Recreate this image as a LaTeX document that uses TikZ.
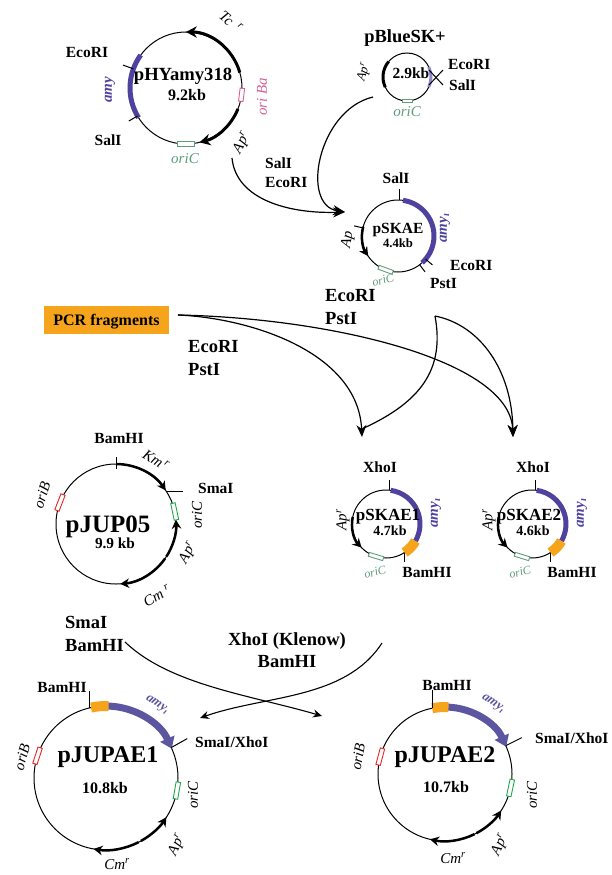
\documentclass[tikz,border=0pt]{standalone}
\usepackage{fontspec}
\setmainfont{Liberation Serif}
\usetikzlibrary{arrows.meta,positioning}

\definecolor{amyblue}{RGB}{78,66,158}
\definecolor{amylight}{RGB}{140,136,204}
\definecolor{amygrey}{RGB}{92,86,160}
\definecolor{pcrorange}{RGB}{246,164,28}
\definecolor{oripink}{RGB}{214,96,152}
\definecolor{orisage}{RGB}{96,156,124}
\definecolor{origreen}{RGB}{30,168,74}
\definecolor{orired}{RGB}{230,36,40}

\tikzset{
  plasmid/.style={circle, draw, line width=1pt, inner sep=0pt, outer sep=0pt, minimum size=#1},
  pname/.style={font=\fontsize{#1}{#1}\selectfont\bfseries, inner sep=0pt},
  enz/.style={font=\fontsize{15.5}{19}\selectfont\bfseries, inner sep=0pt},
  cutlbl/.style={font=\fontsize{18.5}{22.5}\selectfont\bfseries, align=left, inner sep=0pt},
  gene/.style={font=\fontsize{15}{17}\selectfont\itshape, inner sep=0pt},
  amylbl/.style={font=\fontsize{15}{17}\selectfont\bfseries\itshape, text=amyblue, inner sep=0pt},
  cutmark/.style={line width=1pt},
  resist/.style={line width=#1, -{Stealth[length=0pt 3.6, width=0pt 3.8]}},
  amyarc/.style={line width=5pt, amyblue},
  amyarrow/.style={line width=7pt, amygrey, -{Triangle[length=11pt, width=15pt]}},
  orangeseg/.style={line width=10pt, pcrorange},
  oribox/.style={draw=#1, line width=0.9pt, fill=white, inner sep=0pt, minimum width=4.5pt},
  reaction/.style={line width=1.2pt, -{Stealth[length=12pt, width=10pt]}},
  reaction2/.style={line width=1.1pt, -{Stealth[length=9pt, width=8pt]}},
}

\begin{document}
\begin{tikzpicture}[x=1pt, y=1pt]
\useasboundingbox (0,0) rectangle (612,-875);

% pHYamy318
\node[plasmid=112pt] (hy) at (186,-88) {};
\draw[amyarc] (hy.144) arc[start angle=144, end angle=212, radius=56pt];
\draw[resist=3pt] (hy.16) arc[start angle=16, end angle=90, radius=56pt];
\draw[resist=3pt] (hy.-22) arc[start angle=-22, end angle=-76, radius=56pt];
\node[oribox=oripink, minimum height=13pt, rotate=-7] (hyBa) at (hy.-7) {};
\node[oribox=orisage, minimum height=17pt, rotate=-90] (hyC) at (hy.-90) {};
\draw[cutmark] (hy.160) -- ++(160:11);
\draw[cutmark] (hy.210) -- ++(210:10);
\node[pname=18.6, anchor=base] (hyname) at (183,-81) {pHYamy318};
\node[pname=16, anchor=base] (hykb) at (187,-100) {9.2kb};
\node[enz, anchor=base] (hyE) at (87,-58) {EcoRI};
\node[enz, anchor=base] (hyS) at (108,-145) {SalI};
\node[amylbl, rotate=90] (hyamy) at (110,-90) {amy};
\node[gene, rotate=-40] (hyTc) at (231,-22) {Tc\hspace{7pt}\textsuperscript{r}};
\node[gene, text=oripink, rotate=90] (hyBalbl) at (262,-97) {ori Ba};
\node[gene, rotate=62] (hyAp) at (242,-143) {Ap\textsuperscript{r}};
\node[gene, text=orisage, anchor=base] (hyClbl) at (185,-163) {oriC};

% pBlueSK+
\node[plasmid=48pt] (bs) at (407,-77) {};
\draw[line width=3pt, amylight] (bs.25) arc[start angle=25, end angle=-25, radius=24pt];
\draw[line width=3pt] (bs.140) arc[start angle=140, end angle=205, radius=24pt];
\node[oribox=orisage, minimum height=10pt, minimum width=3.5pt, rotate=-90] (bsC) at (bs.-90) {};
\draw[cutmark] ([shift={(22,7)}]bs.center) -- ++(14,-15);
\draw[cutmark] ([shift={(22,-8)}]bs.center) -- ++(14,15);
\node[pname=18.5, anchor=base] (bsname) at (405,-43) {pBlueSK+};
\node[pname=15.5, anchor=base] (bskb) at (411,-78) {2.9kb};
\node[enz, anchor=base west] (bsE) at (448,-70) {EcoRI};
\node[enz, anchor=base west] (bsS) at (449,-90) {SalI};
\node[gene, font=\fontsize{13}{15}\selectfont\itshape, rotate=75] (bsAp) at (364,-72) {Ap\textsuperscript{r}};
\node[gene, text=orisage, anchor=base] (bsClbl) at (407,-116) {oriC};

% pSKAE
\node[plasmid=72pt] (sk) at (398,-236) {};
\draw[amyarc] (sk.82) arc[start angle=82, end angle=-48, radius=36pt];
\draw[resist=2.5pt] (sk.165) arc[start angle=165, end angle=214, radius=36pt];
\node[oribox=orisage, minimum height=15pt, minimum width=4pt, rotate=-110] (skC) at (sk.-110) {};
\draw[cutmark] (sk.167) -- ++(167:9);
\draw[cutmark] (sk.88) -- ++(0,11);
\draw[cutmark] (sk.-40) -- ++(-40:9);
\draw[cutmark] (sk.-53) -- ++(-53:9);
\node[pname=15.5, anchor=base] (skname) at (398,-233) {pSKAE};
\node[pname=12.7, anchor=base] (skkb) at (398,-247) {4.4kb};
\node[enz, anchor=base] (skS) at (396,-183) {SalI};
\node[enz, anchor=base west] (skE) at (450,-270) {EcoRI};
\node[enz, anchor=base west] (skP) at (430,-288) {PstI};
\node[amylbl, rotate=90] (skamy) at (445,-228) {amy\textsubscript{\i}};
\node[gene, rotate=80] (skAp) at (348,-240) {Ap};
\node[gene, font=\fontsize{12}{14}\selectfont\itshape, text=orisage, rotate=15] (skClbl) at (383,-280) {oriC};

% cloning into pBlueSK+
\node[enz, align=left, anchor=west] (cut1) at (265,-173) {SalI\\EcoRI};
\coordinate (hyout) at (232,-158);
\coordinate (bsout) at (373,-97);
\coordinate (skin) at (345,-212);
\draw[reaction] (hyout) .. controls (236,-200) and (290,-214) .. (skin);
\draw[reaction] (bsout) .. controls (318,-110) and (300,-205) .. (skin);

% PCR fragments
\node[fill=pcrorange, minimum width=125pt, minimum height=28pt, inner sep=0pt, text depth=0pt,
      font=\fontsize{16}{18}\selectfont\bfseries] (pcr) at (106.5,-320) {PCR fragments};
\node[cutlbl, anchor=west] (cut2) at (325,-307) {EcoRI\\PstI};
\node[cutlbl, anchor=west] (cut3) at (188,-358) {EcoRI\\PstI};
\coordinate (pcrout) at (178,-315);
\coordinate (skout) at (435,-316);
\coordinate (kain) at (362,-437);
\coordinate (kbin) at (513,-437);
\draw[reaction] (pcrout) .. controls (250,-318) and (358,-352) .. (kain);
\draw[reaction] (pcrout) .. controls (330,-318) and (510,-360) .. (kbin);
\draw[line width=1.2pt] (skout) .. controls (445,-370) and (420,-402) .. (364,-428);
\draw[reaction] (skout) .. controls (480,-325) and (512,-370) .. (kbin);

% pJUP05
\node[plasmid=120pt] (ju) at (116,-524) {};
\draw[resist=2.5pt] (ju.90) arc[start angle=90, end angle=34, radius=60pt];
\draw[resist=2.5pt] (ju.-33) arc[start angle=-33, end angle=4, radius=60pt];
\draw[resist=2.5pt] (ju.-35) arc[start angle=-35, end angle=-86, radius=60pt];
\node[oribox=origreen, minimum height=17pt, rotate=12] (juC) at (ju.12) {};
\node[oribox=orired, minimum height=17pt, rotate=159] (juB) at (ju.159) {};
\draw[cutmark] ([shift={(90:55)}]ju.center) -- ++(0,12);
\draw[cutmark] (ju.33) -- ++(17,0);
\node[pname=25, anchor=base] (juname) at (108,-532) {pJUP05};
\node[pname=15.3, anchor=base] (jukb) at (115,-548) {9.9 kb};
\node[enz, anchor=base] (juBam) at (119,-443) {BamHI};
\node[enz, anchor=base west] (juSma) at (198,-493) {SmaI};
\node[gene, rotate=-32] (juKm) at (156,-460) {Km\hspace{2pt}\textsuperscript{r}};
\node[gene, rotate=90] (juClbl) at (197,-515) {oriC};
\node[gene, rotate=62] (juAp) at (188,-553) {Ap\textsuperscript{r}};
\node[gene, rotate=30] (juCm) at (157,-596) {Cm\hspace{4pt}\textsuperscript{r}};
\node[gene, rotate=72] (juBlbl) at (42,-495) {oriB};

% pSKAE1
\node[plasmid=68pt] (ka) at (386,-524) {};
\draw[amyarc] (ka.82) arc[start angle=82, end angle=-30, radius=34pt];
\draw[orangeseg] (ka.-30) arc[start angle=-30, end angle=-57, radius=34pt];
\draw[resist=2.5pt] (ka.168) arc[start angle=168, end angle=224, radius=34pt];
\node[oribox=orisage, minimum height=15pt, minimum width=4pt, rotate=-107] (kaC) at (ka.-107) {};
\draw[cutmark] (ka.84) -- ++(0,10);
\draw[cutmark] (ka.-57) -- ++(0,-9);
\node[pname=17, anchor=base] (kaname) at (388,-520) {pSKAE1};
\node[pname=14, anchor=base] (kakb) at (390,-535) {4.7kb};
\node[enz, anchor=base] (kaX) at (380,-472) {XhoI};
\node[enz, anchor=base] (kaB) at (427,-577) {BamHI};
\node[amylbl, rotate=90] (kaamy) at (436,-513) {amy\textsubscript{\i}};
\node[gene, rotate=90] (kaAp) at (343,-520) {Ap\textsuperscript{r}};
\node[gene, font=\fontsize{12}{14}\selectfont\itshape, text=orisage, rotate=15] (kaClbl) at (375,-572) {oriC};

% pSKAE2
\node[plasmid=68pt] (kb) at (532,-524) {};
\draw[amyarc] (kb.82) arc[start angle=82, end angle=-30, radius=34pt];
\draw[orangeseg] (kb.-30) arc[start angle=-30, end angle=-57, radius=34pt];
\draw[resist=2.5pt] (kb.168) arc[start angle=168, end angle=224, radius=34pt];
\node[oribox=orisage, minimum height=15pt, minimum width=4pt, rotate=-107] (kbC) at (kb.-107) {};
\draw[cutmark] (kb.84) -- ++(0,10);
\draw[cutmark] (kb.-57) -- ++(0,-9);
\node[pname=17, anchor=base] (kbname) at (529,-520) {pSKAE2};
\node[pname=14, anchor=base] (kbkb) at (533,-535) {4.6kb};
\node[enz, anchor=base] (kbX) at (533,-472) {XhoI};
\node[enz, anchor=base] (kbB) at (572,-577) {BamHI};
\node[amylbl, rotate=90] (kbamy) at (582,-513) {amy\textsubscript{\i}};
\node[gene, rotate=90] (kbAp) at (489,-520) {Ap\textsuperscript{r}};
\node[gene, font=\fontsize{12}{14}\selectfont\itshape, text=orisage, rotate=15] (kbClbl) at (520,-572) {oriC};

% subcloning into pJUP05
\node[cutlbl, anchor=west] (cut4) at (65,-634) {SmaI\\BamHI};
\node[cutlbl, align=center] (cut5) at (287,-650) {XhoI (Klenow)\\BamHI};
\coordinate (juout) at (125,-642);
\coordinate (kaout) at (382,-643);
\coordinate (pbin) at (322,-716);
\coordinate (pain) at (200,-718);
\draw[reaction2] (juout) .. controls (170,-685) and (250,-695) .. (pbin);
\draw[reaction2] (kaout) .. controls (345,-700) and (265,-695) .. (pain);

% pJUPAE1
\node[plasmid=144pt] (pa) at (106,-778) {};
\draw[amyarrow] (pa.89) arc[start angle=89, end angle=24, radius=72pt];
\draw[orangeseg] (pa.102) arc[start angle=102, end angle=88, radius=72pt];
\draw[resist=2.5pt] (pa.-61) arc[start angle=-61, end angle=-33, radius=72pt];
\draw[resist=2.5pt] (pa.-63) arc[start angle=-63, end angle=-100, radius=72pt];
\node[oribox=origreen, minimum height=17pt, rotate=-10] (paC) at (pa.-10) {};
\node[oribox=orired, minimum height=17pt, rotate=162] (paB) at (pa.162) {};
\draw[cutmark] (pa.103) -- ++(0,17);
\draw[cutmark] (pa.25) -- ++(16,9);
\node[pname=24, anchor=base] (paname) at (108,-762) {pJUPAE1};
\node[pname=16, anchor=base] (pakb) at (105,-793) {10.8kb};
\node[enz, anchor=base] (paBam) at (62,-692) {BamHI};
\node[enz, anchor=base west] (paSX) at (195,-747) {SmaI/XhoI};
\node[amylbl, font=\fontsize{13}{15}\selectfont\bfseries\itshape, text=amygrey, rotate=-35] (paamy) at (157,-705) {amy\textsubscript{\i}};
\node[gene, rotate=90] (paClbl) at (193,-795) {oriC};
\node[gene, rotate=65] (paAp) at (177,-845) {Ap\textsuperscript{r}};
\node[gene] (paCm) at (117,-864) {Cm\textsuperscript{r}};
\node[gene, rotate=75] (paBlbl) at (22,-757) {oriB};

% pJUPAE2
\node[plasmid=134pt] (pb) at (445,-774) {};
\draw[amyarrow] (pb.88) arc[start angle=88, end angle=24, radius=67pt];
\draw[orangeseg] (pb.101) arc[start angle=101, end angle=87, radius=67pt];
\draw[resist=2.5pt] (pb.-62) arc[start angle=-62, end angle=-33, radius=67pt];
\draw[resist=2.5pt] (pb.-64) arc[start angle=-64, end angle=-103, radius=67pt];
\node[oribox=origreen, minimum height=17pt, rotate=-12] (pbC) at (pb.-12) {};
\node[oribox=orired, minimum height=17pt, rotate=165] (pbB) at (pb.165) {};
\draw[cutmark] (pb.101) -- ++(0,18);
\draw[cutmark] (pb.25) -- ++(16,8);
\node[pname=24, anchor=base] (pbname) at (445,-762) {pJUPAE2};
\node[pname=16, anchor=base] (pbkb) at (446,-792) {10.7kb};
\node[enz, anchor=base] (pbBam) at (447,-690) {BamHI};
\node[enz, anchor=base west] (pbSX) at (535,-743) {SmaI/XhoI};
\node[amylbl, font=\fontsize{13}{15}\selectfont\bfseries\itshape, text=amygrey, rotate=-35] (pbamy) at (493,-704) {amy\textsubscript{\i}};
\node[gene, rotate=90] (pbClbl) at (532,-795) {oriC};
\node[gene, rotate=65] (pbAp) at (500,-845) {Ap\textsuperscript{r}};
\node[gene] (pbCm) at (453,-858) {Cm\textsuperscript{r}};
\node[gene, rotate=80] (pbBlbl) at (358,-757) {oriB};
\end{tikzpicture}
\end{document}
